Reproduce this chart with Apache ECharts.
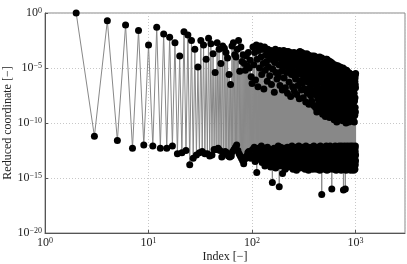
<!DOCTYPE html>
<html><head><meta charset="utf-8">
<script src="https://cdn.jsdelivr.net/npm/echarts@6/dist/echarts.min.js"></script>
<style>html,body{margin:0;padding:0;background:#fff}#c{width:407px;height:264px}</style>
</head><body><div id="c"></div>
<script>
// x axis: point index, starting at 2
const firstIndex = 2;
// y values as decimal exponents (value = 10^e), index 2..1000
const reducedExp = [
 0,-11.2,-0.7,-11.6,-1.1,-12.3,-1.6,-12.0,-2.9,-12.1,-1.3,-12.3,-1.9,-12.3,-2.2,-12.1,-2.7,-12.8,-3.9,-12.7,-1.7,-12.5,-2.0,-13.8,-2.5,-13.2,-3.3,-12.9,-4.9,
 -12.7,-2.5,-12.6,-2.9,-12.8,-4.2,-12.8,-2.3,-13.0,-2.8,
 -12.9,-3.7,-12.4,-5.4,-12.4,-2.7,-12.3,-3.3,-12.5,-4.6,
 -13.1,-3.0,-12.8,-3.2,-12.6,-3.6,-12.7,-4.1,-13.0,-5.6,
 -13.1,-6.5,-13.0,-3.0,-12.6,-2.7,-12.4,-3.8,-12.2,-4.0,
 -12.0,-3.3,-12.5,-2.5,-12.8,-5.3,-13.0,-3.1,-13.2,-4.4,
 -13.4,-3.8,-13.7,-4.6,-13.3,-5.2,-13.1,-3.9,-13.0,-4.8,
 -12.7,-3.6,-12.6,-5.0,-12.9,-4.3,-13.2,-5.8,-13.0,-6.4,
 -12.4,-3.1,-13.1,-4.7,-12.2,-3.6,-13.5,-6.1,-12.7,-2.9,-14.5,-4.2,-12.9,-6.7,-12.3,-3.4,-13.3,-5.0,-12.6,-3.0,
 -13.0,-4.0,-12.1,-5.6,-13.6,-3.3,-12.5,-4.6,-13.2,-6.9,-12.8,-3.1,-13.9,-5.2,-12.3,-3.8,-13.4,-4.4,-12.9,-6.2,
 -12.2,-3.3,-13.7,-4.9,-12.6,-3.6,-13.1,-5.7,-12.4,-4.1,-14.0,-3.4,-12.8,-6.5,-13.3,-3.9,-15.4,-5.1,-12.5,-4.3,
 -13.6,-3.5,-12.3,-7.2,-13.0,-4.5,-12.7,-3.3,-14.1,-5.4,-12.4,-3.8,-13.5,-6.0,-12.9,-4.1,-13.2,-3.5,-12.1,-5.8,
 -13.8,-4.7,-15.8,-3.4,-12.6,-6.6,-13.3,-4.0,-12.2,-3.6,-13.9,-5.3,-12.8,-4.4,-13.1,-7.0,-14.6,-3.7,-12.5,-4.9,
 -13.4,-3.4,-12.3,-5.9,-13.7,-4.2,-12.6,-3.6,-14.2,-6.8,-12.9,-4.5,-13.2,-3.5,-12.4,-5.4,-13.6,-3.9,-12.2,-7.3,
 -13.0,-4.3,-12.7,-3.5,-14.0,-5.0,-12.5,-6.3,-13.4,-3.8,-12.2,-4.7,-13.8,-3.6,-12.8,-7.6,-13.3,-4.1,-12.4,-5.6,
 -13.7,-3.7,-12.1,-4.9,-13.1,-6.7,-12.6,-3.9,-14.2,-5.3,-12.9,-4.2,-13.5,-3.6,-12.3,-7.1,-13.0,-4.6,-12.7,-5.8,
 -13.9,-3.8,-12.5,-6.0,-13.2,-4.4,-12.2,-3.7,-14.3,-7.4,-12.8,-4.8,-13.6,-3.9,-12.4,-5.5,-13.1,-6.6,-12.6,-4.0,
 -13.4,-3.6,-12.1,-5.1,-13.8,-7.8,-12.7,-4.3,-13.0,-3.5,-14.1,-6.2,-12.3,-4.7,-13.5,-3.7,-12.9,-5.6,-13.3,-7.0,
 -12.5,-3.6,-13.7,-4.5,-12.2,-6.4,-14.0,-3.8,-12.8,-5.2,-13.2,-7.7,-12.4,-4.1,-13.6,-3.7,-12.6,-5.9,-13.9,-4.6,
 -12.3,-6.9,-13.1,-3.8,-14.2,-5.4,-12.7,-4.2,-13.4,-8.1,-12.1,-3.9,-13.8,-6.1,-12.9,-4.8,-13.3,-3.7,-12.5,-5.5,
 -14.0,-7.3,-12.6,-4.4,-13.5,-3.8,-12.2,-6.3,-13.0,-5.0,-14.3,-4.0,-12.8,-8.3,-13.6,-3.9,-12.4,-5.7,-13.2,-4.6,
 -12.7,-6.8,-13.9,-3.9,-12.3,-5.2,-13.4,-7.5,-12.9,-4.3,-14.1,-4.0,-12.6,-6.0,-13.1,-8.0,-12.2,-4.8,-13.7,-3.9,
 -12.5,-5.6,-13.3,-7.1,-14.2,-4.2,-12.8,-4.0,-13.6,-6.5,-12.4,-5.0,-13.0,-8.4,-12.1,-4.4,-13.8,-3.9,-12.7,-6.0,
 -13.2,-4.1,-12.5,-7.4,-14.0,-5.3,-12.9,-4.5,-13.5,-8.6,-12.3,-6.2,-13.7,-4.0,-12.7,-5.8,-13.1,-7.0,-14.2,-4.3,
 -12.4,-9.0,-13.3,-4.9,-12.8,-6.6,-13.9,-4.2,-12.2,-5.5,-13.6,-7.8,-12.6,-4.4,-14.1,-6.0,-13.0,-4.1,-12.5,-8.2,
 -13.4,-5.1,-12.3,-4.3,-13.8,-6.9,-12.9,-7.5,-13.2,-4.0,-14.3,-5.7,-12.6,-8.8,-13.5,-4.6,-12.1,-6.3,-13.7,-4.2,
 -12.8,-5.4,-14.0,-7.2,-12.4,-4.5,-13.1,-8.5,-12.7,-6.1,-16.5,-4.1,-13.6,-5.0,-12.3,-7.7,-13.9,-4.3,-12.9,-9.2,
 -13.3,-5.9,-12.5,-4.2,-14.1,-6.8,-12.8,-4.7,-13.5,-8.0,-12.2,-5.3,-13.8,-4.3,-12.6,-7.3,-13.0,-6.0,-14.2,-4.4,
 -12.4,-8.7,-13.4,-5.1,-12.9,-4.3,-13.7,-6.6,-12.3,-9.4,-14.0,-4.6,-12.7,-5.7,-13.2,-7.9,-12.5,-4.2,-13.6,-6.4,
 -12.1,-4.5,-13.9,-8.3,-12.8,-5.5,-13.3,-4.2,-14.3,-7.0,-12.6,-6.1,-13.1,-4.4,-12.4,-9.1,-13.8,-5.2,-12.9,-4.3,
 -13.5,-7.6,-12.2,-4.6,-14.0,-6.0,-12.7,-8.6,-13.2,-4.4,-12.5,-5.6,-13.7,-7.2,-12.9,-4.5,-14.2,-6.7,-12.3,-9.5,
 -13.0,-4.7,-12.6,-5.9,-13.6,-4.4,-12.1,-8.1,-14.1,-6.3,-12.8,-4.6,-13.4,-7.4,-12.4,-5.3,-13.9,-9.0,-12.7,-4.8,
 -13.3,-6.5,-12.5,-4.5,-13.8,-8.4,-12.2,-5.6,-16.0,-4.7,-12.9,-7.1,-13.5,-6.0,-12.6,-4.6,-14.0,-9.3,-13.1,-5.2,
 -12.4,-4.8,-13.7,-7.8,-12.8,-5.7,-13.2,-9.0,-14.2,-4.9,-12.3,-6.6,-13.6,-8.2,-12.9,-4.8,-13.0,-5.9,-12.5,-9.7,
 -13.9,-5.0,-12.2,-7.3,-13.4,-4.7,-12.7,-6.2,-14.1,-8.8,-12.6,-5.3,-13.5,-4.8,-12.1,-7.9,-13.8,-6.4,-12.9,-5.0,
 -13.2,-9.2,-12.4,-4.9,-13.7,-5.8,-12.8,-8.0,-14.3,-6.8,-12.5,-4.8,-13.1,-7.4,-12.3,-5.4,-13.9,-9.9,-12.7,-5.1,
 -13.4,-6.3,-12.6,-4.9,-14.0,-8.5,-12.2,-5.6,-13.6,-7.1,-12.9,-4.8,-13.3,-6.0,-12.4,-9.4,-13.8,-5.2,-12.7,-7.7,
 -14.2,-4.9,-12.3,-6.6,-13.5,-8.2,-12.8,-5.3,-13.0,-4.9,-12.5,-7.5,-13.9,-6.1,-12.1,-9.1,-13.6,-5.0,-12.9,-5.8,
 -13.2,-8.7,-12.4,-5.1,-14.1,-7.0,-12.7,-4.9,-13.4,-6.4,-12.2,-9.6,-13.8,-5.5,-12.8,-7.8,-13.1,-5.0,-12.5,-6.9,
 -13.7,-5.2,-12.3,-8.4,-14.3,-6.0,-12.9,-5.0,-13.3,-7.3,-12.6,-9.2,-13.6,-5.4,-12.1,-6.7,-13.9,-5.1,-12.7,-8.0,
 -13.0,-5.7,-12.5,-7.6,-14.0,-5.1,-12.8,-6.2,-13.5,-9.8,-12.4,-5.3,-13.2,-7.1,-12.2,-5.0,-13.8,-8.6,-12.9,-6.5,
 -13.4,-5.2,-16.1,-7.4,-12.6,-5.8,-13.7,-9.0,-12.3,-5.1,-14.2,-6.8,-12.8,-8.1,-13.1,-5.4,-12.5,-7.0,-13.9,-5.2,
 -12.7,-9.5,-13.3,-6.0,-12.1,-5.3,-13.6,-7.7,-14.1,-5.5,-12.4,-8.5,-13.0,-6.3,-16.0,-5.2,-12.9,-7.2,-13.5,-5.6,
 -12.3,-8.9,-13.8,-5.3,-12.6,-6.6,-13.2,-10.0,-14.3,-5.4,-12.8,-7.5,-13.4,-5.9,-12.2,-8.3,-13.7,-5.2,-12.5,-6.9,
 -13.1,-9.3,-12.9,-5.5,-14.0,-7.1,-12.4,-5.3,-13.6,-8.0,-12.7,-6.2,-13.3,-9.7,-12.1,-5.6,-13.9,-7.4,-12.6,-5.4,
 -13.5,-6.8,-12.3,-8.6,-14.2,-5.5,-12.8,-7.9,-13.0,-5.7,-12.5,-9.2,-13.7,-6.3,-12.2,-5.4,-13.4,-8.2,-12.9,-7.0,
 -14.1,-5.6,-12.6,-9.9,-13.2,-6.0,-12.4,-5.5,-13.8,-7.7,-12.7,-8.8,-13.1,-5.8,-12.3,-6.6,-14.0,-5.5,-12.8,-9.1,
 -13.6,-7.3,-12.5,-5.7,-13.3,-8.4,-12.1,-6.1,-13.9,-5.6,-12.9,-9.5,-13.4,-7.0,-12.6,-5.8,-14.3,-8.1,-12.2,-6.4,
 -13.0,-5.7,-12.7,-9.0,-13.7,-6.9,-12.4,-5.9,-14.0,-7.8,-12.8,-5.6,-13.5,-8.7,-12.3,-6.2,-13.1,-9.8,-12.6,-5.7,
 -13.8,-7.5,-12.2,-6.0,-14.2,-5.8,-12.9,-8.9,-13.3,-6.7,-12.5,-5.7,-13.6,-9.4,-12.1,-7.2,-13.9,-5.9,-12.7,-8.3,
 -13.2,-6.1,-12.4,-5.8,-14.1,-9.6,-12.8,-7.0,-13.5,-5.9,-12.3,-8.5,-13.7,-6.4,-12.6,-5.8,-13.0,-9.2,-14.3,-7.6,
 -12.5,-6.0,-13.4,-8.8,-12.2,-5.9,-13.9,-7.3,-12.7,-6.3,-14.0,-9.9,-12.9,-5.9,-13.3,-8.0,-12.4,-6.6,-13.6,-5.8,
 -12.8,-9.3,-13.1,-6.2,-14.2,-7.7,-12.3,-5.9,-13.5,-8.6,-12.6,-6.5,-13.8,-5.6,-12.1,-9.0,-13.4,-6.8,-12.9,-5.5
];
const xAxisTitle = 'Index [\u2212]';
const yAxisTitle = 'Reduced coordinate [\u2212]';

const seriesData = reducedExp.map((e, k) => [firstIndex + k, Math.pow(10, e)]);

const FONT = 'Liberation Serif';
function powLabel(v) {
  const e = Math.log10(v);
  const r = Math.round(e);
  if (Math.abs(e - r) > 1e-6) return '';
  return '{b|10}{s|' + String(r).replace('-', '\u2212') + '}';
}
const rich = {
  b: { fontFamily: FONT, fontSize: 12, color: '#222', verticalAlign: 'bottom', lineHeight: 12 },
  s: { fontFamily: FONT, fontSize: 8, color: '#222', verticalAlign: 'top', lineHeight: 8, padding: [0, 0, 5, 0] }
};
const splitStyle = { color: '#c8c8c8', type: [1, 2], width: 1 };
const axisCol = '#555';

const chart = echarts.init(document.getElementById('c'), null, { renderer: 'canvas' });
chart.setOption({
  animation: false,
  backgroundColor: '#fff',
  grid: { left: 45, right: 2, top: 13, bottom: 31, containLabel: false, outerBoundsMode: 'none',
          show: true, borderColor: '#888', borderWidth: 1, backgroundColor: 'transparent' },
  xAxis: {
    type: 'log', logBase: 10, min: 1, max: 3000,
    axisLine: { show: true, lineStyle: { color: axisCol } },
    axisTick: { show: true, inside: true, length: 3, lineStyle: { color: axisCol } },
    splitLine: { show: true, lineStyle: splitStyle },
    axisLabel: { formatter: powLabel, margin: 4, rich: rich, showMaxLabel: false },
    name: xAxisTitle, nameLocation: 'middle', nameGap: 18, nameMoveOverlap: false,
    nameTextStyle: { fontFamily: FONT, fontSize: 12, color: '#222', verticalAlign: 'top' }
  },
  yAxis: {
    type: 'log', logBase: 100000, min: 1e-20, max: 1,
    axisLine: { show: true, lineStyle: { color: axisCol } },
    axisTick: { show: true, inside: true, length: 3, lineStyle: { color: axisCol } },
    splitLine: { show: true, lineStyle: splitStyle },
    axisLabel: { formatter: powLabel, margin: 3, rich: rich },
    name: yAxisTitle, nameLocation: 'middle', nameGap: 31, nameMoveOverlap: false,
    nameTextStyle: { fontFamily: FONT, fontSize: 12, color: '#222' }
  },
  series: [{
    type: 'line', data: seriesData, clip: false,
    symbol: 'circle', symbolSize: 7, showSymbol: true, showAllSymbol: true,
    itemStyle: { color: '#000' },
    lineStyle: { color: '#888', width: 1 },
    emphasis: { disabled: true }
  }]
});
</script></body></html>
